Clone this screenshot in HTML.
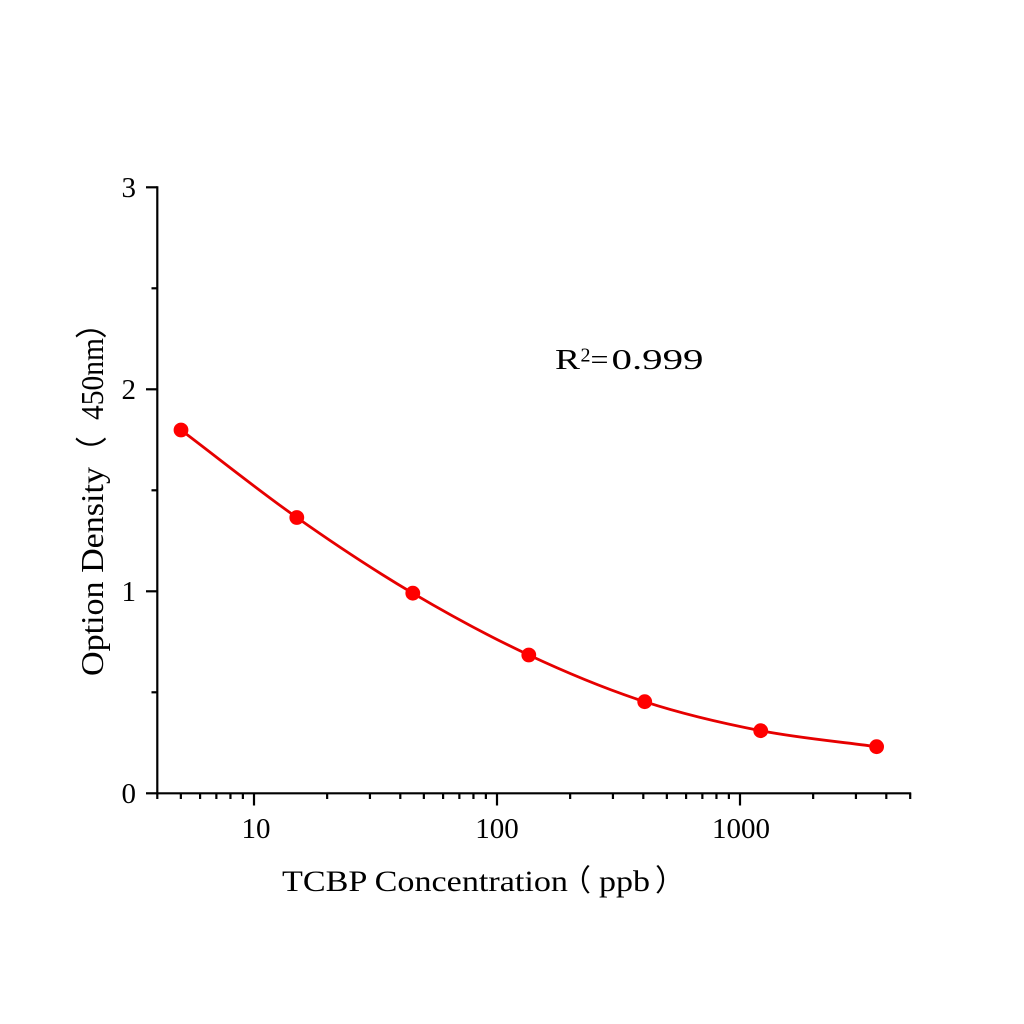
<!DOCTYPE html>
<html>
<head>
<meta charset="utf-8">
<style>
  html, body { margin: 0; padding: 0; background: #ffffff; }
  svg { display: block; }
  text { font-family: "Liberation Serif", "Noto Serif CJK SC", "Noto Sans CJK SC", serif; fill: #000; }
  .cjk { font-family: "Liberation Serif", "Noto Sans CJK SC", sans-serif; }
</style>
</head>
<body>
<svg width="1024" height="1024" viewBox="0 0 1024 1024" xmlns="http://www.w3.org/2000/svg">
  <rect x="0" y="0" width="1024" height="1024" fill="#ffffff"/>

  <!-- axes -->
  <g stroke="#000" stroke-width="2.2" fill="none">
    <line x1="157.3" y1="186.3" x2="157.3" y2="794.3"/>
    <line x1="156.3" y1="793.3" x2="911.2" y2="793.3"/>
    <!-- y major ticks -->
    <line x1="146" y1="187.3" x2="157.3" y2="187.3"/>
    <line x1="146" y1="389.3" x2="157.3" y2="389.3"/>
    <line x1="146" y1="591.3" x2="157.3" y2="591.3"/>
    <line x1="146" y1="793.3" x2="157.3" y2="793.3"/>
    <!-- y minor ticks -->
    <line x1="151.5" y1="288.3" x2="157.3" y2="288.3"/>
    <line x1="151.5" y1="490.3" x2="157.3" y2="490.3"/>
    <line x1="151.5" y1="692.3" x2="157.3" y2="692.3"/>
    <!-- x major ticks -->
    <line x1="254" y1="793.3" x2="254" y2="805.5"/>
    <line x1="497" y1="793.3" x2="497" y2="805.5"/>
    <line x1="740" y1="793.3" x2="740" y2="805.5"/>
    <!-- x minor ticks -->
    <g>
      <line x1="157.3" y1="793.3" x2="157.3" y2="799"/>
      <line x1="180.85" y1="793.3" x2="180.85" y2="799"/>
      <line x1="200.09" y1="793.3" x2="200.09" y2="799"/>
      <line x1="216.36" y1="793.3" x2="216.36" y2="799"/>
      <line x1="230.45" y1="793.3" x2="230.45" y2="799"/>
      <line x1="242.88" y1="793.3" x2="242.88" y2="799"/>

      <line x1="327.15" y1="793.3" x2="327.15" y2="799"/>
      <line x1="369.94" y1="793.3" x2="369.94" y2="799"/>
      <line x1="400.3" y1="793.3" x2="400.3" y2="799"/>
      <line x1="423.85" y1="793.3" x2="423.85" y2="799"/>
      <line x1="443.09" y1="793.3" x2="443.09" y2="799"/>
      <line x1="459.36" y1="793.3" x2="459.36" y2="799"/>
      <line x1="473.45" y1="793.3" x2="473.45" y2="799"/>
      <line x1="485.88" y1="793.3" x2="485.88" y2="799"/>

      <line x1="570.15" y1="793.3" x2="570.15" y2="799"/>
      <line x1="612.94" y1="793.3" x2="612.94" y2="799"/>
      <line x1="643.3" y1="793.3" x2="643.3" y2="799"/>
      <line x1="666.85" y1="793.3" x2="666.85" y2="799"/>
      <line x1="686.09" y1="793.3" x2="686.09" y2="799"/>
      <line x1="702.36" y1="793.3" x2="702.36" y2="799"/>
      <line x1="716.45" y1="793.3" x2="716.45" y2="799"/>
      <line x1="728.88" y1="793.3" x2="728.88" y2="799"/>

      <line x1="813.15" y1="793.3" x2="813.15" y2="799"/>
      <line x1="855.94" y1="793.3" x2="855.94" y2="799"/>
      <line x1="886.3" y1="793.3" x2="886.3" y2="799"/>
      <line x1="910.2" y1="793.3" x2="910.2" y2="799"/>
    </g>
  </g>

  <!-- y tick labels -->
  <g font-size="29" text-anchor="end">
    <text x="136" y="197">3</text>
    <text x="136" y="399">2</text>
    <text x="136" y="601">1</text>
    <text x="136" y="803">0</text>
  </g>

  <!-- x tick labels -->
  <g font-size="29" text-anchor="middle">
    <text x="256" y="838">10</text>
    <text x="497" y="838">100</text>
    <text x="741" y="838">1000</text>
  </g>

  <!-- x axis title -->
  <g font-size="30">
    <text x="282" y="891" textLength="286" lengthAdjust="spacingAndGlyphs">TCBP Concentration</text>
    <text class="cjk" x="561" y="891">（</text>
    <text x="599" y="891" textLength="51" lengthAdjust="spacingAndGlyphs">ppb</text>
    <text class="cjk" x="655" y="891">）</text>
  </g>

  <!-- y axis title -->
  <g font-size="32" transform="translate(103,0) rotate(-90)">
    <text x="-676" y="0" textLength="209" lengthAdjust="spacingAndGlyphs">Option Density</text>
    <text class="cjk" x="-468" y="0">（</text>
    <text x="-420" y="0" textLength="82" lengthAdjust="spacingAndGlyphs">450nm</text>
    <text class="cjk" x="-339" y="0">）</text>
  </g>

  <!-- R^2 annotation -->
  <g>
    <text x="555" y="369" font-size="29" textLength="25" lengthAdjust="spacingAndGlyphs">R</text>
    <text x="580.5" y="361.7" font-size="20" textLength="10" lengthAdjust="spacingAndGlyphs">2</text>
    <text x="590.5" y="369" font-size="29" textLength="18" lengthAdjust="spacingAndGlyphs">=</text>
    <text x="611.5" y="369" font-size="29" textLength="92" lengthAdjust="spacingAndGlyphs">0.999</text>
  </g>

  <!-- fitted curve -->
  <path d="M181,430
           C219.6,459.2 258.2,490.3 296.8,517.5
           C335.4,544.7 374.1,570.3 412.8,593.2
           C451.5,616.1 490.2,636.9 528.8,655
           C567.5,673.1 606.1,689.1 644.7,701.7
           C683.4,714.3 722.0,723.2 760.7,730.7
           C799.4,738.2 838.0,741.4 876.6,746.7"
        fill="none" stroke="#e60000" stroke-width="2.8" stroke-linejoin="round" stroke-linecap="round"/>

  <!-- data points -->
  <g fill="#ff0000">
    <circle cx="181" cy="430" r="7.4"/>
    <circle cx="296.8" cy="517.5" r="7.4"/>
    <circle cx="412.8" cy="593.2" r="7.4"/>
    <circle cx="528.8" cy="655" r="7.4"/>
    <circle cx="644.7" cy="701.7" r="7.4"/>
    <circle cx="760.7" cy="730.7" r="7.4"/>
    <circle cx="876.6" cy="746.7" r="7.4"/>
  </g>
</svg>
</body>
</html>
